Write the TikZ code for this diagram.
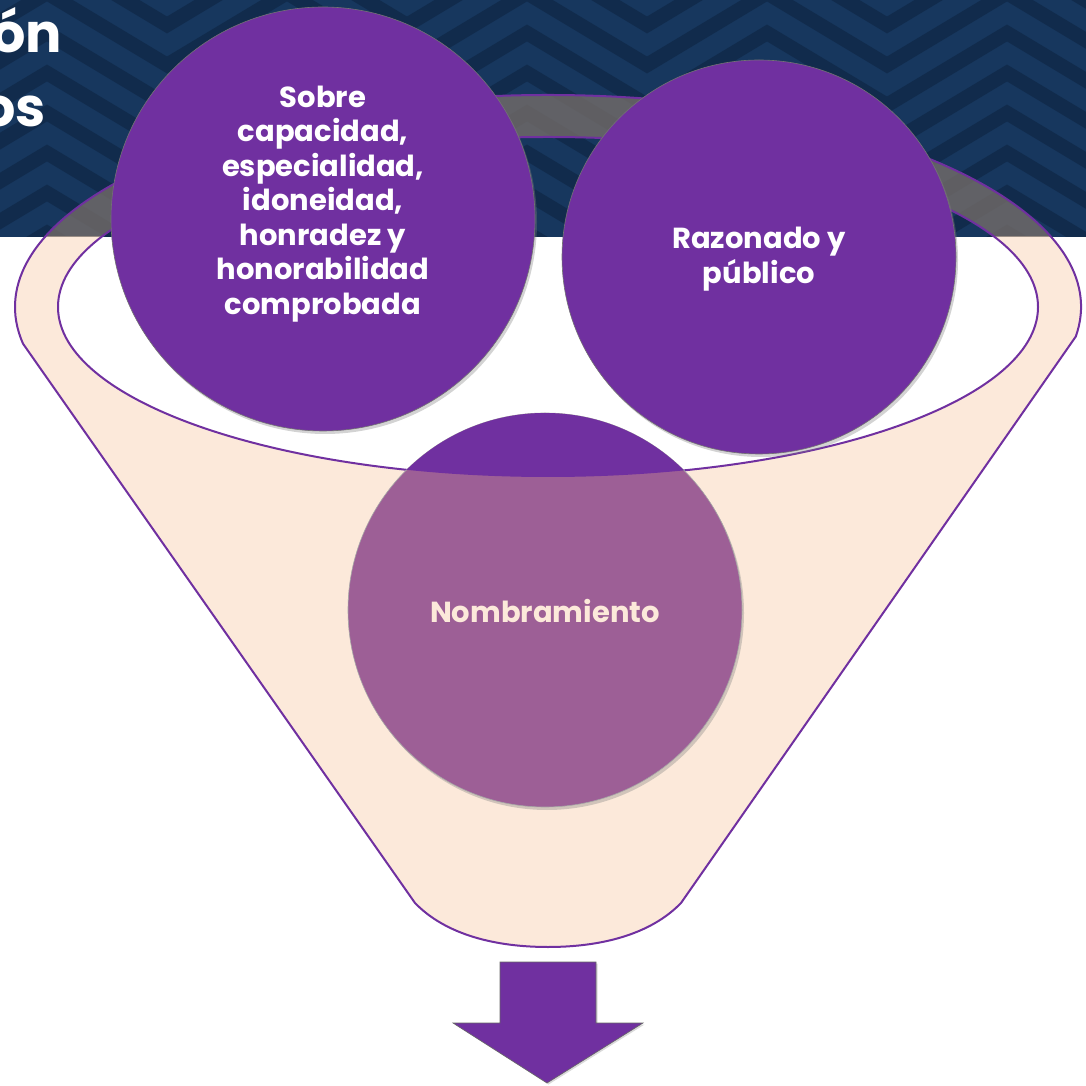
\documentclass[tikz,border=0pt]{standalone}
\usepackage{fontspec}
\setmainfont{Poppins}
\usetikzlibrary{shadows}
\definecolor{navy}{HTML}{17375E}
\definecolor{navydark}{HTML}{112B4C}
\definecolor{morado}{HTML}{7030A0}
\definecolor{malva}{HTML}{9D5F96}
\definecolor{durazno}{HTML}{FCE9DA}
\definecolor{anillo}{HTML}{7A706A}
\tikzset{
        % Chevron stripes of the banner
        chevron/.style={navydark, line width=14.5pt, line join=miter},
        % Title letters
        titulo/.style={inner sep=0pt, text=white, font=\bfseries\fontsize{54}{60}\selectfont},
        % Purple circles
        burbuja/.style={circle, inner sep=0pt, fill=morado, draw=black!55, line width=0.6pt,
                drop shadow={shadow xshift=2pt, shadow yshift=-3pt, opacity=0.35}},
        % Text in the circles
        texto/.style={align=center, inner sep=0pt, text=white, font=\bfseries\fontsize{29}{34.5}\selectfont},
        % Funnel outline
        embudo/.style={draw=morado, line width=2pt}
}

\begin{document}
\begin{tikzpicture}[x=1pt, y=1pt]
    \useasboundingbox (0,0) rectangle (1086,1085);
    \def\embudopath{(1075.8,748.5) arc[start angle=-8, end angle=190, x radius=533, y radius=212]
        -- (415,182) .. controls (446,150) and (496,138) .. (548,138)
        .. controls (600,138) and (650,150) .. (681,182) -- cycle
        (548,778) ellipse [x radius=490, y radius=170]}

    % Banner
    \begin{scope}
        \clip (0,848) rectangle (1086,1085);
        \fill[navy] (0,848) rectangle (1086,1085);
        \foreach \y in {740,780,...,1100}
            \draw[chevron] (-73,\y) \foreach \j in {1,...,11} { -- ({-73+120*\j},{\y+72*mod(\j,2)}) };
    \end{scope}
    \node[titulo, anchor=base east] (titulo_a) at (62,1032) {ón};
    \node[titulo, anchor=base east] (titulo_b) at (46,958) {os};

    % Funnel
    \begin{scope}
        \clip (0,0) rectangle (1086,848);
        \fill[durazno, even odd rule] \embudopath;
    \end{scope}
    \begin{scope}
        \clip (0,848) rectangle (1086,1085);
        \fill[anillo, opacity=0.75, even odd rule] \embudopath;
    \end{scope}
    \draw[embudo] \embudopath;

    % Circles
    \node[burbuja, minimum size=424pt] (sobre) at (323,866) {};
    \node[burbuja, minimum size=394pt] (razonado) at (759,828) {};
    \node[burbuja, fill=malva, draw=black!35, minimum size=394pt] (nombramiento) at (545,475) {};
    \begin{scope}
        \clip (548,778) ellipse [x radius=490, y radius=170];
        \fill[morado] (nombramiento.center) circle (197);
    \end{scope}

    \node[texto] (sobre_txt) at ([yshift=15pt]sobre.center)
        {Sobre\\capacidad,\\especialidad,\\idoneidad,\\honradez y\\honorabilidad\\comprobada};
    \node[texto] (razonado_txt) at ([yshift=-2pt]razonado.center) {Razonado y\\público};
    \node[texto, text=durazno] (nombramiento_txt) at ([yshift=-1.5pt]nombramiento.center) {Nombramiento};

    % Arrow out of the funnel
    \fill[morado, draw=black!60, line width=0.6pt,
        drop shadow={shadow xshift=1.5pt, shadow yshift=-1.5pt, opacity=0.3}]
        (500,123) -- (596,123) -- (596,62) -- (643,62) -- (547,2) -- (453,62) -- (500,62) -- cycle;
\end{tikzpicture}
\end{document}
